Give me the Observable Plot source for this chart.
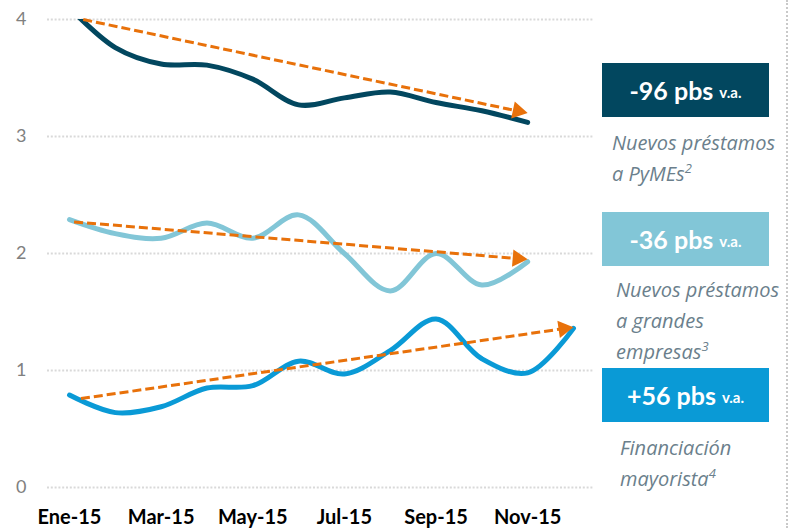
<!DOCTYPE html>
<html><head><meta charset="utf-8">
<script src="https://cdn.jsdelivr.net/npm/d3@7"></script>
<script src="https://cdn.jsdelivr.net/npm/@observablehq/plot@0.6"></script>
<style>
body{margin:0;background:#fff;}
#wrap{position:relative;width:789px;height:528px;overflow:hidden;font-family:Lato,sans-serif;background:#fff;}
#wrap svg{position:absolute;left:0;top:0;}
svg [aria-label^="x-axis"] text{font:bold 20px Lato, sans-serif; fill:#000;}
svg [aria-label^="y-axis"] text{font:18px Lato, sans-serif; fill:#808080;}
.box{position:absolute;left:602px;width:167px;height:54px;display:flex;align-items:center;justify-content:center;color:#fff;font-weight:700;font-size:25px;white-space:nowrap;font-family:Lato,sans-serif;}
.box small{font-size:15px;margin-left:6px;font-weight:700;position:relative;top:2px;}
.lab{position:absolute;font:italic 20px "Open Sans",sans-serif;color:#6b7f8c;line-height:31px;white-space:nowrap;}
.lab sup{font-size:13px;line-height:0;vertical-align:super;}
.vline{position:absolute;left:786px;top:0;height:528px;border-left:2px dotted #c9c9c9;}
</style></head><body><div id="wrap"></div>
<script>
// ---- data ----
const months = ["Ene-15","Feb-15","Mar-15","Abr-15","May-15","Jun-15","Jul-15","Ago-15","Sep-15","Oct-15","Nov-15","Dic-15"];
const tickMonths = ["Ene-15","Mar-15","May-15","Jul-15","Sep-15","Nov-15"];
const yTicks = [0,1,2,3,4];
const pymes     = [4.10,3.76,3.62,3.61,3.49,3.27,3.33,3.38,3.29,3.22,3.12];
const grandes   = [2.29,2.17,2.13,2.26,2.13,2.33,2.00,1.68,2.00,1.73,1.93];
const mayorista = [0.79,0.64,0.69,0.85,0.87,1.08,0.97,1.17,1.44,1.10,0.98,1.36];
const seriesValues = [pymes, grandes, mayorista];
const seriesColors = ["#02475f","#82c6d7","#0a9ad6"];
const trendFromMonth = [0.3, 0.1, 0.25];
const trendFromValue = [4.0, 2.27, 0.76];
const trendToMonth   = [10, 10, 11];
const trendToValue   = [3.20, 1.95, 1.37];
const changeValues = ["-96 pbs","-36 pbs","+56 pbs"];
const changeSuffix = "v.a.";
const labelLines = [["Nuevos préstamos","a PyMEs"],["Nuevos préstamos","a grandes","empresas"],["Financiación","mayorista"]];
const footnotes = ["2","3","4"];

// ---- layout (positions only) ----
const boxTops = [63, 212, 368];
const labTops = [127, 274, 432];
const labLefts = [612, 616, 620];

const rows = seriesValues.flatMap((vals,k)=>vals.map((v,i)=>({s:k,i,v})));
const tickIdx = tickMonths.map(m=>months.indexOf(m));

function build(extra){
  return Plot.plot({
    width:789,height:528,marginLeft:47,marginRight:196,marginTop:19,marginBottom:41,
    style:{background:"transparent",fontFamily:"Lato, sans-serif",overflow:"visible"},
    x:{type:"linear",domain:[-0.48,11.437],ticks:tickIdx,tickFormat:i=>months[i],tickSize:0,tickPadding:22,label:null},
    y:{domain:[0,4],ticks:yTicks,tickFormat:d=>String(d),tickSize:0,tickPadding:21,label:null},
    marks:[
      Plot.ruleY(yTicks,{stroke:"#d9d9d9",strokeWidth:2,strokeDasharray:"2,1.8"}),
      ...seriesValues.map((vals,k)=>Plot.line(rows.filter(r=>r.s===k),{x:"i",y:"v",stroke:seriesColors[k],strokeWidth:5,curve:"catmull-rom",clip:true,strokeLinecap:"round",strokeLinejoin:"round"})),
      ...extra
    ]
  });
}

const base = build([]);
const sx = base.scale("x"), sy = base.scale("y");
const X = d3.scaleLinear(sx.domain, sx.range), Y = d3.scaleLinear(sy.domain, sy.range);
const headLen = 15, headR = headLen/2.333;
const arrows = trendFromMonth.map((_,k)=>{
  const x1=X(trendFromMonth[k]), y1=Y(trendFromValue[k]), x2=X(trendToMonth[k]), y2=Y(trendToValue[k]);
  const L=Math.hypot(x2-x1,y2-y1), ux=(x2-x1)/L, uy=(y2-y1)/L;
  const ang=Math.atan2(uy,ux)*180/Math.PI+90;
  const bx=x2-ux*headLen*0.8, by=y2-uy*headLen*0.8;
  const cx=x2-ux*headLen*2/3, cy=y2-uy*headLen*2/3;
  return {x1:trendFromMonth[k],y1:trendFromValue[k],x2:X.invert(bx),y2:Y.invert(by),cx:X.invert(cx),cy:Y.invert(cy),ang};
});

const chart = build([
  Plot.link(arrows,{x1:"x1",y1:"y1",x2:"x2",y2:"y2",stroke:"#e8710a",strokeWidth:3,strokeDasharray:"9,4"}),
  Plot.dot(arrows,{x:"cx",y:"cy",symbol:"triangle",r:headR,fill:"#e8710a",stroke:"none",rotate:"ang"})
]);

const wrap=document.getElementById("wrap");
wrap.appendChild(chart);
changeValues.forEach((t,k)=>{
  const b=document.createElement("div");
  b.className="box"; b.style.top=boxTops[k]+"px"; b.style.background=seriesColors[k];
  b.innerHTML=`${t}<small>${changeSuffix}</small>`;
  wrap.appendChild(b);
  const l=document.createElement("div");
  l.className="lab"; l.style.top=labTops[k]+"px"; l.style.left=labLefts[k]+"px";
  l.innerHTML=labelLines[k].map((s,j)=>j===labelLines[k].length-1?`${s}<sup>${footnotes[k]}</sup>`:s).join("<br>");
  wrap.appendChild(l);
});
const v=document.createElement("div"); v.className="vline"; wrap.appendChild(v);
</script></body></html>
